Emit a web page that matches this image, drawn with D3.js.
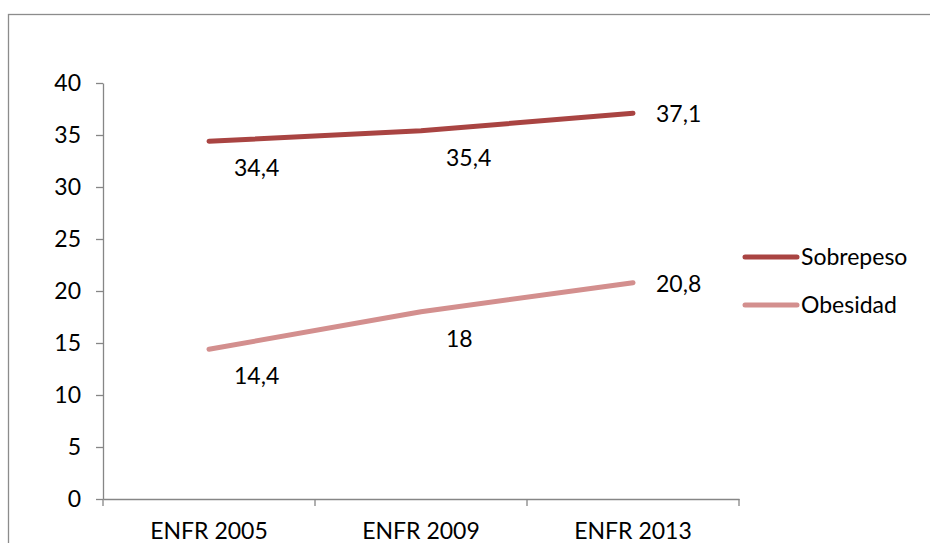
<!DOCTYPE html>
<html>
<head>
<meta charset="utf-8">
<script src="https://cdn.jsdelivr.net/npm/d3@7"></script>
<style>
  body { margin: 0; background: #fff; }
  svg { display: block; font-family: Lato, "Open Sans", sans-serif; }
  .axis path, .axis line { stroke: #868686; stroke-width: 1.3; }
  .axis text { fill: #000; font-size: 23px; font-family: Lato, "Open Sans", sans-serif; }
  .lbl { font-size: 23px; fill: #000; }
</style>
</head>
<body>
<div class="chart"></div>
<script>
var categories = ["ENFR 2005", "ENFR 2009", "ENFR 2013"];
var sobrepeso = [34.4, 35.4, 37.1];
var obesidad = [14.4, 18, 20.8];
var seriesNames = ["Sobrepeso", "Obesidad"];
var yTicks = [0, 5, 10, 15, 20, 25, 30, 35, 40];

var svgWidth = 930;
var svgHeight = 543;

var margin = { top: 83, right: 191, bottom: 44, left: 103 };
var width = svgWidth - margin.left - margin.right;
var height = svgHeight - margin.top - margin.bottom;

var colors = ["#A94442", "#D38F8E"];
var series = [sobrepeso, obesidad];

var svg = d3.select(".chart")
  .append("svg")
  .attr("width", svgWidth)
  .attr("height", svgHeight);

// outer frame
svg.append("rect")
  .attr("x", 8.5)
  .attr("y", 14.5)
  .attr("width", 940)
  .attr("height", 560)
  .attr("fill", "none")
  .attr("stroke", "#8c8c8c")
  .attr("stroke-width", 1.3);

var chartGroup = svg.append("g")
  .attr("transform", `translate(${margin.left}, ${margin.top})`);

var x = d3.scaleBand().domain(categories).range([0, width]);
var y = d3.scaleLinear().domain([0, 40]).range([height, 0]);

// y axis
chartGroup.append("g")
  .attr("class", "axis")
  .call(d3.axisLeft(y).tickValues(yTicks).tickSize(7).tickPadding(15).tickSizeOuter(0))
  .attr("font-family", null)
  .attr("font-size", null);

// x axis: labels in the middle of each band, ticks on band edges
var xAxis = chartGroup.append("g")
  .attr("class", "axis")
  .attr("transform", `translate(0, ${height})`)
  .call(d3.axisBottom(x).tickSize(0).tickPadding(24).tickSizeOuter(0))
  .attr("font-family", null)
  .attr("font-size", null);

var edges = categories.map(c => x(c)).concat([width]);
xAxis.selectAll(".edge")
  .data(edges)
  .enter().append("line")
  .attr("class", "edge")
  .attr("x1", d => d).attr("x2", d => d)
  .attr("y1", 0).attr("y2", 7);

// lines
var line = d3.line()
  .x((d, i) => x(categories[i]) + x.bandwidth() / 2)
  .y(d => y(d));

series.forEach(function(values, s) {
  chartGroup.append("path")
    .datum(values)
    .attr("d", line)
    .attr("fill", "none")
    .attr("stroke", colors[s])
    .attr("stroke-width", 5)
    .attr("stroke-linecap", "round")
    .attr("stroke-linejoin", "round");

  // data labels: below-right for first points, right of the last point
  chartGroup.selectAll(".lbl" + s)
    .data(values)
    .enter().append("text")
    .attr("class", "lbl")
    .attr("x", (d, i) => x(categories[i]) + x.bandwidth() / 2 + (i === values.length - 1 ? 23 : 25))
    .attr("y", (d, i) => y(d) + (i === values.length - 1 ? 1 : 27))
    .attr("dy", "0.35em")
    .text(d => String(d).replace(".", ","));
});

// legend
var legend = svg.append("g")
  .attr("transform", "translate(745, 257)");

seriesNames.forEach(function(name, i) {
  var g = legend.append("g").attr("transform", `translate(0, ${i * 48})`);
  g.append("line")
    .attr("x1", 0).attr("x2", 52)
    .attr("stroke", colors[i])
    .attr("stroke-width", 5)
    .attr("stroke-linecap", "round");
  g.append("text")
    .attr("class", "lbl")
    .attr("x", 56)
    .attr("dy", "0.35em")
    .text(name);
});
</script>
</body>
</html>
